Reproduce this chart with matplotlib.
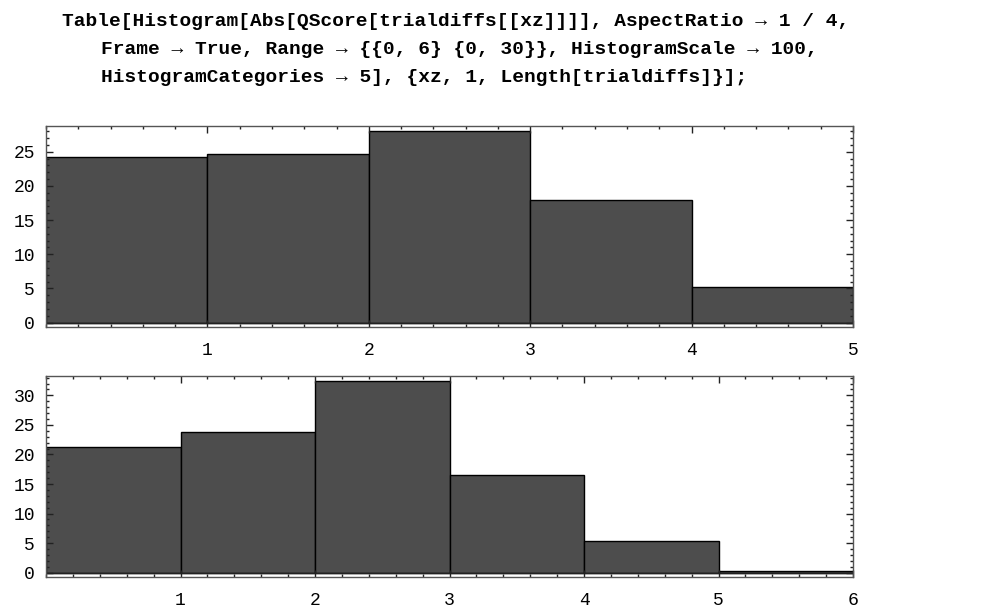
import numpy as np
import matplotlib
matplotlib.use('Agg')
import matplotlib.pyplot as plt
from matplotlib.ticker import MultipleLocator

# 数据：两次试验的直方图（百分比）
edges_top = [0, 1, 2, 3, 4, 5]
values_top = [24.2, 24.7, 28.0, 18.0, 5.2]
edges_bottom = [0, 1, 2, 3, 4, 5, 6]
values_bottom = [21.3, 23.8, 32.4, 16.6, 5.4, 0.3]

code_lines = [
    'Table[Histogram[Abs[QScore[trialdiffs[[xz]]]], AspectRatio \u2192 1 / 4,',
    'Frame \u2192 True, Range \u2192 {{0, 6} {0, 30}}, HistogramScale \u2192 100,',
    'HistogramCategories \u2192 5], {xz, 1, Length[trialdiffs]}];',
]

mono = ['Liberation Mono', 'DejaVu Sans Mono']
bar_color = '#4d4d4d'

fig = plt.figure(figsize=(9.97, 6.09), dpi=100)

# 代码文字（Mathematica 输入）
fig.text(62 / 997, 1 - 22 / 609, code_lines[0], family=mono, weight='bold',
         fontsize=14, va='center', ha='left')
fig.text(101 / 997, 1 - 50 / 609, code_lines[1], family=mono, weight='bold',
         fontsize=14, va='center', ha='left')
fig.text(101 / 997, 1 - 78 / 609, code_lines[2], family=mono, weight='bold',
         fontsize=14, va='center', ha='left')

ax1 = fig.add_axes([46 / 997, 1 - 327 / 609, 807 / 997, 201 / 609])
ax2 = fig.add_axes([46 / 997, 1 - 577 / 609, 807 / 997, 201 / 609])


def draw_hist(ax, edges, values):
    edges = np.array(edges, dtype=float)
    ax.bar(edges[:-1], values, width=np.diff(edges), align='edge',
           color=bar_color, edgecolor='black', linewidth=1.0)
    ax.axhline(0, color='#222222', lw=1.0)
    top = max(values)
    ax.set_xlim(edges[0], edges[-1])
    ax.set_ylim(-0.0225 * top, 1.027 * top)
    ax.xaxis.set_major_locator(MultipleLocator(1))
    ax.xaxis.set_minor_locator(MultipleLocator(0.2))
    ax.yaxis.set_major_locator(MultipleLocator(5))
    ax.yaxis.set_minor_locator(MultipleLocator(1))
    ax.tick_params(which='both', direction='in', top=True, right=True,
                   color='#222222', width=1.0)
    ax.tick_params(which='major', length=5)
    ax.tick_params(which='minor', length=2.5)
    ax.tick_params(axis='x', which='major', pad=11)
    ax.tick_params(axis='y', which='major', pad=8)
    xt = [t for t in range(1, int(edges[-1]) + 1)]
    ax.set_xticks(xt)
    ax.set_xticklabels([str(t) for t in xt])
    for lab in ax.get_xticklabels() + ax.get_yticklabels():
        lab.set_family(mono)
        lab.set_fontsize(13)
    for s in ax.spines.values():
        s.set_color('#555555')
        s.set_linewidth(1.0)


draw_hist(ax1, edges_top, values_top)
draw_hist(ax2, edges_bottom, values_bottom)

fig.savefig('out.png', dpi=100)
